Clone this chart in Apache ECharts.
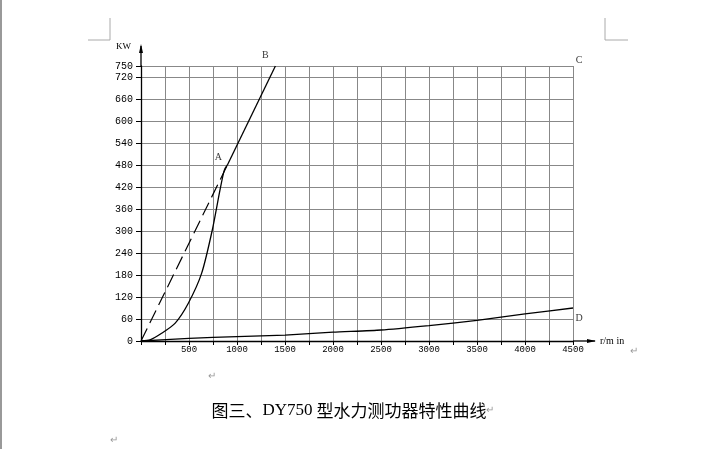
<!DOCTYPE html>
<html><head><meta charset="utf-8">
<script src="https://cdn.jsdelivr.net/npm/echarts@6/dist/echarts.min.js"></script>
<style>html,body{margin:0;padding:0;background:#fff}#c{width:712px;height:449px}</style>
</head><body><div id="c"></div>
<script>
// ---- data (speed r/min, power KW) ----
const curveAX = [0, 100, 215, 354, 493, 632, 743, 823, 868, 900];
const curveAY = [0, 4, 21, 48, 103, 185, 303, 412, 466, 480];
const dashX = [0, 900];
const dashY = [0, 480];
const lineBX = [900, 1400];
const lineBY = [480, 750];
const curveDX = [0, 500, 1000, 1500, 2000, 2500, 3000, 3500, 4000, 4500];
const curveDY = [0, 7, 12, 16, 24, 30, 42, 56, 74, 90];
const pointNames = ['A', 'B', 'C', 'D'];
const pointX = [900, 1400, 4500, 4500];
const pointY = [480, 750, 750, 90];
const xMax = 4500, xStep = 250, xLabelStep = 500;
const yMax = 750, yStep = 60;
const caption = ['图三、', 'DY750', ' 型水力测功器特性曲线'];

const pair = (xs, ys) => xs.map((x, i) => [x, ys[i]]);
const labelOffsets = {A: [-9, -8], B: [-10, -11], C: [6, -6], D: [6, 10]};

const chart = echarts.init(document.getElementById('c'));
const line = {color: '#000', width: 1.3};
chart.setOption({
  animation: false,
  grid: {left: 141, right: 139, top: 66, bottom: 108},
  xAxis: {
    type: 'value', min: 0, max: xMax, interval: xStep,
    axisLine: {lineStyle: {color: '#000', width: 1.3}},
    axisTick: {show: true, length: 4, lineStyle: {color: '#000'}},
    axisLabel: {formatter: v => (v > 0 && v % xLabelStep === 0) ? String(v) : '',
      fontFamily: 'Liberation Mono', fontSize: 9, color: '#000', margin: 4},
    splitLine: {show: true, lineStyle: {color: '#888', width: 1}},
    name: 'r/m in', nameLocation: 'end', nameGap: 27,
    nameTextStyle: {fontFamily: 'Liberation Serif', fontSize: 10, color: '#000'}
  },
  yAxis: {
    type: 'value', min: 0, max: yMax, interval: yStep,
    axisLine: {show: true, lineStyle: {color: '#000', width: 1.3}},
    axisTick: {show: true, length: 5, lineStyle: {color: '#000'}},
    axisLabel: {fontFamily: 'Liberation Mono', fontSize: 10, color: '#000', margin: 8},
    splitLine: {show: true, lineStyle: {color: '#888', width: 1}},
    name: 'KW', nameLocation: 'end', nameGap: 15,
    nameTextStyle: {fontFamily: 'Liberation Serif', fontSize: 9, color: '#000', align: 'right', padding: [0, 10, 0, 0]}
  },
  series: [
    {type: 'line', data: pair(curveAX, curveAY), smooth: 0.25, showSymbol: false, lineStyle: line},
    {type: 'line', data: pair(dashX, dashY), showSymbol: false, lineStyle: {color: '#000', width: 1.2, type: [14, 6]}},
    {type: 'line', data: pair(lineBX, lineBY), showSymbol: false, lineStyle: line},
    {type: 'line', data: pair(curveDX, curveDY), smooth: 0.2, showSymbol: false, lineStyle: line},
    {type: 'scatter', symbolSize: 0, silent: true,
      data: pointNames.map((n, i) => ({value: [pointX[i], pointY[i]], name: n,
        label: {show: true, formatter: n, offset: labelOffsets[n], position: 'inside',
          fontFamily: 'Liberation Serif', fontSize: 10, color: '#000'}}))}
  ]
});

const o = chart.convertToPixel({gridIndex: 0}, [0, 0]);
const t = chart.convertToPixel({gridIndex: 0}, [0, yMax]);
const r = chart.convertToPixel({gridIndex: 0}, [xMax, 0]);
const gray = '#aaa';
const mark = (x, y) => ({type: 'text', left: x, top: y, style: {text: '\u21b5', fontSize: 10, fill: '#999'}});
chart.setOption({graphic: [
  {type: 'line', shape: {x1: o[0], y1: t[1], x2: o[0], y2: t[1] - 20}, style: {stroke: '#000', lineWidth: 1.3}},
  {type: 'polygon', shape: {points: [[o[0], t[1] - 22], [o[0] - 2, t[1] - 13], [o[0] + 2, t[1] - 13]]}, style: {fill: '#000'}},
  {type: 'line', shape: {x1: r[0], y1: r[1], x2: r[0] + 22, y2: r[1]}, style: {stroke: '#000', lineWidth: 1.3}},
  {type: 'polygon', shape: {points: [[r[0] + 23, r[1]], [r[0] + 14, r[1] - 2], [r[0] + 14, r[1] + 2]]}, style: {fill: '#000'}},
  {type: 'rect', shape: {x: 0, y: 0, width: 2, height: 449}, style: {fill: '#999'}},
  {type: 'polyline', shape: {points: [[88, 40], [110, 40], [110, 18]]}, style: {stroke: gray, lineWidth: 1, fill: null}},
  {type: 'polyline', shape: {points: [[605, 18], [605, 40], [628, 40]]}, style: {stroke: gray, lineWidth: 1, fill: null}},
  mark(208, 371), mark(110, 435), mark(630, 346), mark(486, 405),
  {type: 'text', x: 349, y: 411, style: {
    text: '{c|' + caption[0] + '}{l|' + caption[1] + '}{c|' + caption[2] + '}',
    align: 'center', verticalAlign: 'middle',
    rich: {c: {fontFamily: 'Noto Sans CJK SC', fontSize: 17, fill: '#000'},
           l: {fontFamily: 'Liberation Serif', fontSize: 17, fill: '#000'}}}}
]});
</script></body></html>
